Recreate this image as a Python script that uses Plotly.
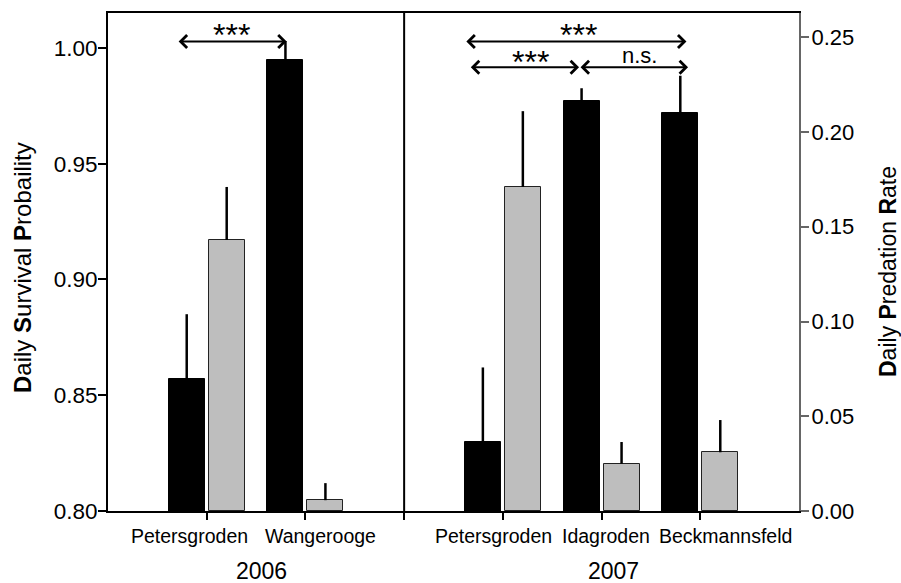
import plotly.graph_objects as go

# Site positions on the category axis (x = 3 separates the two years)
sites = ["Petersgroden", "Wangerooge", "Petersgroden", "Idagroden", "Beckmannsfeld"]
site_x = [1, 2, 4, 5, 6]
years = ["2006", "2007"]

# Daily survival probability (left axis) with upper error
dsp = [0.857, 0.995, 0.830, 0.977, 0.972]
dsp_err = [0.028, 0.008, 0.032, 0.0056, 0.016]

# Daily predation rate (right axis) with upper error
dpr = [0.143, 0.0057, 0.171, 0.025, 0.031]
dpr_err = [0.028, 0.009, 0.040, 0.0114, 0.017]

FONT = "Liberation Sans, Arial, sans-serif"

# plot-area geometry in pixels
L, R, T, B = 108, 799, 13, 511
W, H = R - L, B - T


def py(p):
    """pixel row -> paper y"""
    return (B - p) / H


def px(p):
    """pixel column -> paper x"""
    return (p - L) / W


fig = go.Figure()

fig.add_trace(go.Bar(
    x=site_x, y=dsp, width=0.365, offset=-0.385,
    marker=dict(color="black", line=dict(color="black", width=1)),
    error_y=dict(type="data", symmetric=False, array=dsp_err,
                 arrayminus=[0] * len(dsp), color="black", thickness=2.5, width=0),
    yaxis="y", showlegend=False, hoverinfo="skip",
))

fig.add_trace(go.Bar(
    x=site_x, y=dpr, width=0.365, offset=0.02,
    marker=dict(color="#BEBEBE", line=dict(color="#222222", width=1)),
    error_y=dict(type="data", symmetric=False, array=dpr_err,
                 arrayminus=[0] * len(dpr), color="black", thickness=2.5, width=0),
    yaxis="y2", showlegend=False, hoverinfo="skip",
))

annotations = []

# significance arrows (double headed)
arrows = [
    (0.70, 1.81, 1.0028),
    (3.615, 5.86, 1.0028),
    (3.66, 4.772, 0.9917),
    (4.772, 5.876, 0.9917),
]
for x0, x1, yv in arrows:
    annotations.append(dict(
        x=x1, y=yv, ax=x0, ay=yv, xref="x", yref="y", axref="x", ayref="y",
        text="", showarrow=True, arrowside="end+start",
        arrowhead=4, startarrowhead=4, arrowsize=1.25, startarrowsize=1.25,
        arrowwidth=2, arrowcolor="black", standoff=0, startstandoff=0,
    ))

# significance labels
for txt, xv, pix, size in [("***", 1.25, 35, 32), ("***", 4.762, 35, 32),
                           ("***", 4.276, 62, 32), ("n.s.", 5.387, 56, 22)]:
    annotations.append(dict(
        x=xv, y=py(pix), xref="x", yref="paper", text=txt, showarrow=False,
        xanchor="center", yanchor="middle", font=dict(family=FONT, size=size, color="black"),
    ))

# site names under the axis
for txt, cx in [("Petersgroden", 189), ("Wangerooge", 320.6), ("Petersgroden", 493),
                ("Idagroden", 606), ("Beckmannsfeld", 725.6)]:
    annotations.append(dict(
        x=px(cx), y=py(536), xref="paper", yref="paper", text=txt, showarrow=False,
        xanchor="center", yanchor="middle", font=dict(family=FONT, size=19.5, color="black"),
    ))

# year labels
for txt, cx in zip(years, [261, 613.6]):
    annotations.append(dict(
        x=px(cx), y=py(571), xref="paper", yref="paper", text=txt, showarrow=False,
        xanchor="center", yanchor="middle", font=dict(family=FONT, size=23, color="black"),
    ))

# axis titles
annotations.append(dict(
    x=px(22), y=py(268), xref="paper", yref="paper",
    text="<b>D</b>aily <b>S</b>urvival <b>P</b>robaility", textangle=-90,
    showarrow=False, xanchor="center", yanchor="middle",
    font=dict(family=FONT, size=24, color="black"),
))
annotations.append(dict(
    x=px(888), y=py(272), xref="paper", yref="paper",
    text="<b>D</b>aily <b>P</b>redation <b>R</b>ate", textangle=-90,
    showarrow=False, xanchor="center", yanchor="middle",
    font=dict(family=FONT, size=23, color="black"),
))

fig.update_layout(
    width=901, height=583,
    margin=dict(l=L, r=901 - R, t=T, b=583 - B, pad=0),
    paper_bgcolor="white", plot_bgcolor="white",
    barmode="overlay", bargap=0,
    xaxis=dict(
        range=[0, 7], tickvals=[1, 2, 3, 4, 5, 6], ticktext=[""] * 6,
        ticks="outside", ticklen=7, tickwidth=1.5, tickcolor="black",
        showline=True, linecolor="black", linewidth=2, mirror=True,
        showgrid=False, zeroline=False, fixedrange=True,
    ),
    yaxis=dict(
        range=[0.80, 1.0151], tickvals=[0.80, 0.85, 0.90, 0.95, 1.00], tickformat=".2f",
        ticks="outside", ticklen=8, tickwidth=1.5, tickcolor="black",
        showline=True, linecolor="black", linewidth=2,
        showgrid=False, zeroline=False, ticklabelstandoff=-4,
        tickfont=dict(family=FONT, size=22.5, color="black"),
    ),
    yaxis2=dict(
        range=[0, 0.2628], tickvals=[0, 0.05, 0.10, 0.15, 0.20, 0.25], tickformat=".2f",
        overlaying="y", side="right",
        ticks="outside", ticklen=8, tickwidth=1.5, tickcolor="#666666",
        showline=True, linecolor="#666666", linewidth=2,
        showgrid=False, zeroline=False, ticklabelstandoff=-2,
        tickfont=dict(family=FONT, size=22, color="black"),
    ),
    shapes=[dict(type="line", xref="x", yref="paper", x0=3, x1=3, y0=0, y1=1,
                 line=dict(color="black", width=2))],
    annotations=annotations,
)

fig.write_html("out.html")
